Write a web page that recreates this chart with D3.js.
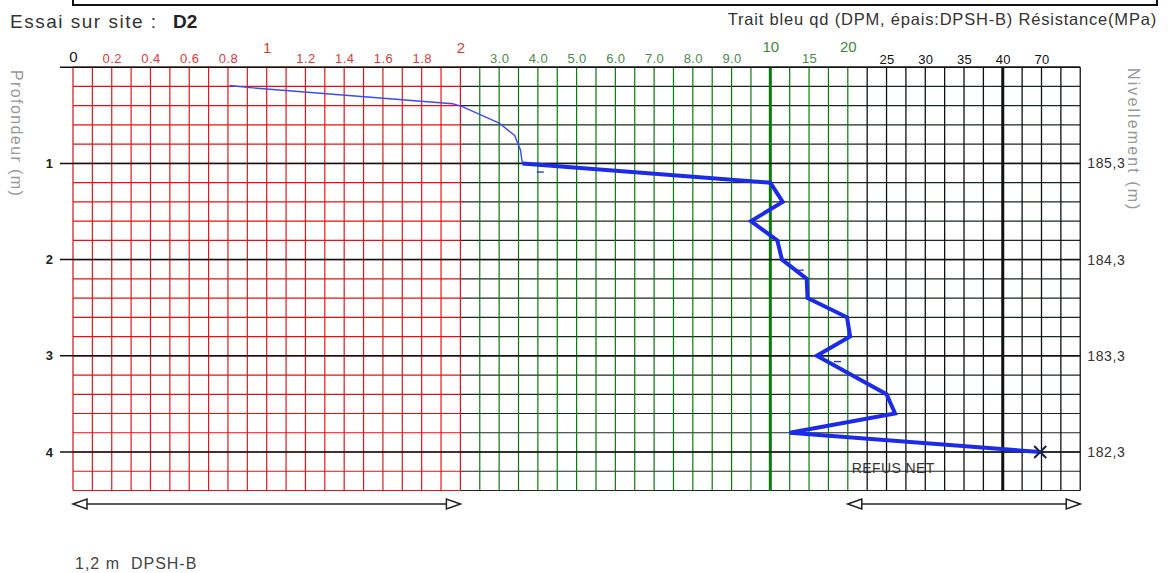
<!DOCTYPE html>
<html>
<head>
<meta charset="utf-8">
<script src="https://cdn.jsdelivr.net/npm/d3@7"></script>
<style>
  body { margin: 0; background: #fff; }
  svg { font-family: "Liberation Sans", Arial, sans-serif; }
</style>
</head>
<body>
<svg id="drawing-area"></svg>
<script>
// axis break values (qd, MPa) : red 0-2, green 2-20, black 20-100
const qdBreaks = [0, 2, 10, 20, 40, 100];
const redGrid = d3.range(1, 21).map(i => i / 10);
const greenGrid = [2.5, 3, 3.5, 4, 4.5, 5, 5.5, 6, 6.5, 7, 7.5, 8, 8.5, 9, 9.5, 10, 12.5, 15, 17.5, 20];
const blackGrid = [22.5, 25, 27.5, 30, 32.5, 35, 37.5, 40, 55, 70, 85, 100];

const redMinorLabels = [0.2, 0.4, 0.6, 0.8, 1.2, 1.4, 1.6, 1.8];
const redMajorLabels = [1, 2];
const greenMinorLabels = [3, 4, 5, 6, 7, 8, 9, 15];
const greenMajorLabels = [10, 20];
const blackLabels = [25, 30, 35, 40, 70];

const depthTicks = [1, 2, 3, 4];
const nivLabels = ["185,3", "184,3", "183,3", "182,3"];

// thin line (DPM)
const dpmDepth = [0.19, 0.21, 0.38, 0.41, 0.58, 0.71, 0.86, 1.0];
const dpmQd = [0.81, 0.90, 1.96, 2.05, 3.0, 3.4, 3.55, 3.6];

// thick line (DPSH-B)
const dpshDepth = [1.0, 1.2, 1.4, 1.6, 1.8, 2.0, 2.2, 2.4, 2.6, 2.8, 3.0, 3.2, 3.4, 3.6, 3.8, 4.0];
const dpshQd = [3.6, 10.0, 11.6, 9.5, 10.9, 11.5, 14.7, 14.8, 19.9, 20.3, 16.0, 20.5, 25.0, 26.1, 12.5, 69];

// small dashes left on the curve
const dashDepth = [1.09, 2.11, 3.06];
const dashQd = [4.05, 13.8, 18.6];

const refusDepth = 4.0, refusQd = 69;

const W = 1168, H = 573;
const gridLeft = 73, gridTop = 67.2, colW = 19.37, mDepth = 96.2;
const cols = [0, 20, 36, 40, 48, 52];

const svg = d3.select("#drawing-area").attr("width", W).attr("height", H);
svg.append("rect").attr("width", W).attr("height", H).attr("fill", "#fff");

const x = d3.scaleLinear().domain(qdBreaks).range(cols.map(c => gridLeft + c * colW));
const y = d3.scaleLinear().domain([0, 4.4]).range([gridTop, gridTop + 4.4 * mDepth]);
const x0 = x(0), x2 = x(2), x20 = x(20), xEnd = x(100);
const yTop = y(0), yBot = y(4.4);

// header box
svg.append("rect").attr("x", gridLeft).attr("y", -10).attr("width", 1157 - gridLeft).attr("height", 15)
  .attr("fill", "none").attr("stroke", "#111").attr("stroke-width", 2);

svg.append("text").attr("x", 10).attr("y", 28).attr("font-size", 19).attr("letter-spacing", 1.5)
  .attr("fill", "#333").text("Essai sur site :");
svg.append("text").attr("x", 173).attr("y", 28).attr("font-size", 19).attr("font-weight", "bold")
  .attr("fill", "#222").text("D2");
svg.append("text").attr("x", 1157).attr("y", 25).attr("text-anchor", "end").attr("font-size", 16.5)
  .attr("letter-spacing", 0.8).attr("fill", "#333")
  .text("Trait bleu qd (DPM, épais:DPSH-B) Résistance(MPa)");

const g = svg.append("g");

// rows
const rows = d3.range(0, 23).map(i => +(i * 0.2).toFixed(1));
g.selectAll(".row-red").data(rows).enter().append("line")
  .attr("x1", x0).attr("x2", x2).attr("y1", d => y(d)).attr("y2", d => y(d))
  .attr("stroke", "#e81010").attr("stroke-width", 1.2);
g.selectAll(".row-dark").data(rows).enter().append("line")
  .attr("x1", x2).attr("x2", xEnd).attr("y1", d => y(d)).attr("y2", d => y(d))
  .attr("stroke", "#1a2a1a").attr("stroke-width", 1.2);

// columns
g.selectAll(".col-red").data(redGrid).enter().append("line")
  .attr("x1", d => x(d)).attr("x2", d => x(d)).attr("y1", yTop).attr("y2", yBot)
  .attr("stroke", "#e01818").attr("stroke-width", 1.2);
g.selectAll(".col-green").data(greenGrid).enter().append("line")
  .attr("x1", d => x(d)).attr("x2", d => x(d)).attr("y1", yTop).attr("y2", yBot)
  .attr("stroke", "#0a7a0a").attr("stroke-width", d => d == 10 ? 3 : 1.2);
g.selectAll(".col-black").data(blackGrid).enter().append("line")
  .attr("x1", d => x(d)).attr("x2", d => x(d)).attr("y1", yTop).attr("y2", yBot)
  .attr("stroke", "#111").attr("stroke-width", d => d == 40 ? 3 : 1.3);
g.append("line").attr("x1", x0).attr("x2", x0).attr("y1", yTop).attr("y2", yBot)
  .attr("stroke", "#c01818").attr("stroke-width", 1.2);

// integer depth lines in black
g.selectAll(".row-int").data([0, 1, 2, 3, 4]).enter().append("line")
  .attr("x1", 60).attr("x2", xEnd).attr("y1", d => y(d)).attr("y2", d => y(d))
  .attr("stroke", "#111").attr("stroke-width", 1.5);

// left axis
const yAxis = svg.append("g").attr("transform", `translate(${gridLeft},0)`)
  .call(d3.axisLeft(y).tickValues(depthTicks).tickSize(13).tickPadding(7).tickFormat(d3.format("d")));
yAxis.select(".domain").remove();
yAxis.selectAll("line").remove();
yAxis.selectAll("text").attr("font-size", 13).attr("font-weight", "bold").attr("fill", "#222").attr("font-family", null);

// right axis
const rAxis = svg.append("g").attr("transform", `translate(${xEnd},0)`)
  .call(d3.axisRight(y).tickValues(depthTicks).tickSize(0).tickPadding(7).tickFormat((d, i) => nivLabels[i]));
rAxis.select(".domain").remove();
rAxis.selectAll("text").attr("font-size", 14).attr("letter-spacing", 0.6).attr("fill", "#333").attr("font-family", null);

// top labels
function topAxis(values, fmt, size, color, base, spacing) {
  const a = svg.append("g").attr("transform", `translate(0,${base})`)
    .call(d3.axisTop(x).tickValues(values).tickSize(0).tickPadding(0).tickFormat(fmt));
  a.select(".domain").remove();
  a.selectAll("text").attr("font-size", size).attr("fill", color).attr("font-family", null)
    .attr("dy", 0).attr("letter-spacing", spacing || 0);
  return a;
}
topAxis([0], d => "0", 15, "#111", 62);
topAxis(redMinorLabels, d3.format(".1f"), 13, "#d83a3a", 63, 0.4);
topAxis(redMajorLabels, d3.format("d"), 15, "#d83a3a", 53);
topAxis(greenMinorLabels, d => d < 10 ? d.toFixed(1) : String(d), 13, "#4a8a4a", 63, 0.4);
topAxis(greenMajorLabels, d3.format("d"), 15, "#3a8a3a", 52);
topAxis(blackLabels, d3.format("d"), 13, "#111", 64, 0.4);

// axis titles
svg.append("text").attr("transform", "translate(11,70) rotate(90)").attr("font-size", 16).attr("fill", "#999")
  .attr("letter-spacing", 1.4).text("Profondeur (m)");
svg.append("text").attr("transform", "translate(1128,68) rotate(90)").attr("font-size", 16).attr("fill", "#999")
  .attr("letter-spacing", 2.1).text("Nivellement (m)");

// curves
const line = d3.line().x(d => x(d[1])).y(d => y(d[0]));
svg.append("path").datum(d3.zip(dpmDepth, dpmQd)).attr("d", line)
  .attr("fill", "none").attr("stroke", "#3a4cf5").attr("stroke-width", 1.4);
svg.append("path").datum(d3.zip(dpshDepth, dpshQd)).attr("d", line)
  .attr("fill", "none").attr("stroke", "#1b2be8").attr("stroke-width", 4).attr("stroke-linejoin", "miter");
svg.selectAll(".dash").data(d3.zip(dashDepth, dashQd)).enter().append("line")
  .attr("x1", d => x(d[1]) - 3).attr("x2", d => x(d[1]) + 4).attr("y1", d => y(d[0])).attr("y2", d => y(d[0]))
  .attr("stroke", "#1b2be8").attr("stroke-width", 1.3);

// refus cross
const rx = x(refusQd), ry = y(refusDepth);
svg.append("path").attr("d", `M${rx - 6},${ry - 6}L${rx + 6},${ry + 6}M${rx - 6},${ry + 6}L${rx + 6},${ry - 6}`)
  .attr("stroke", "#1a1f4a").attr("stroke-width", 2);
svg.append("text").attr("x", x20 + 4).attr("y", 473).attr("font-size", 14).attr("fill", "#333")
  .attr("letter-spacing", 0.4).text("REFUS NET");

// bottom arrows
function arrow(xa, xb, yy) {
  const a = svg.append("g").attr("stroke", "#222").attr("fill", "none").attr("stroke-width", 1.5);
  a.append("line").attr("x1", xa).attr("x2", xb).attr("y1", yy).attr("y2", yy);
  a.append("path").attr("d", `M${xa},${yy}L${xa + 14},${yy - 5}L${xa + 14},${yy + 5}Z`).attr("fill", "#fff");
  a.append("path").attr("d", `M${xb},${yy}L${xb - 14},${yy - 5}L${xb - 14},${yy + 5}Z`).attr("fill", "#fff");
}
arrow(x0, x2, 504);
arrow(x20, xEnd, 504);

svg.append("text").attr("x", 75).attr("y", 569).attr("font-size", 16).attr("letter-spacing", 1).attr("fill", "#444")
  .style("white-space", "pre").text("1,2 m  DPSH-B");
</script>
</body>
</html>
